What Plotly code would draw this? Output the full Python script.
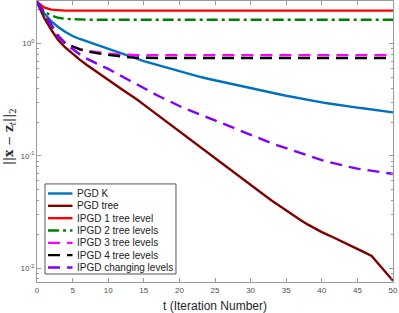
import plotly.graph_objects as go

t = list(range(51))

pgd_k = [2.35, 1.862, 1.585, 1.40, 1.27, 1.17, 1.10, 1.045, 0.99, 0.945,
         0.90, 0.855, 0.815, 0.775, 0.735, 0.70, 0.67, 0.642, 0.615, 0.59,
         0.567, 0.545, 0.524, 0.504, 0.487, 0.471, 0.456, 0.442, 0.428, 0.415,
         0.402, 0.389, 0.377, 0.365, 0.354, 0.343, 0.333, 0.323, 0.315, 0.307,
         0.300, 0.293, 0.286, 0.281, 0.275, 0.269, 0.264, 0.258, 0.253, 0.248,
         0.244]

pgd_tree = [2.35, 1.70, 1.33, 1.07, 0.92, 0.81, 0.72, 0.645, 0.58, 0.525,
            0.475, 0.43, 0.389, 0.355, 0.320, 0.286, 0.256, 0.230, 0.206, 0.184,
            0.165, 0.148, 0.132, 0.118, 0.106, 0.0948, 0.0851, 0.0764, 0.0686, 0.0615,
            0.0551, 0.0494, 0.0443, 0.0398, 0.0359, 0.0325, 0.0294, 0.0268, 0.0245, 0.0226,
            0.0209, 0.0196, 0.0183, 0.0171, 0.0160, 0.0149, 0.0138, 0.0128, 0.0108, 0.0091,
            0.0077]

ipgd_1 = [2.35, 2.10, 2.01, 1.98] + [1.97] * 47
ipgd_2 = [2.35, 1.93, 1.78, 1.70, 1.66, 1.645] + [1.635] * 45
ipgd_3 = [2.35, 1.86, 1.45, 1.16, 1.0, 0.94, 0.895, 0.865, 0.845, 0.83, 0.815, 0.805, 0.797] + [0.79] * 38
ipgd_4 = [2.35, 1.86, 1.45, 1.16, 1.0, 0.94, 0.89, 0.855, 0.83, 0.81, 0.795, 0.78, 0.765, 0.755, 0.75] + [0.746] * 36

ipgd_chg = [2.35, 1.862, 1.45, 1.16, 1.0, 0.895, 0.805, 0.735, 0.68, 0.635,
            0.595, 0.553, 0.51, 0.47, 0.435, 0.401, 0.372, 0.343, 0.320, 0.297,
            0.278, 0.261, 0.245, 0.231, 0.219, 0.207, 0.195, 0.184, 0.173, 0.163,
            0.154, 0.145, 0.136, 0.129, 0.123, 0.117, 0.111, 0.105, 0.1005, 0.0959,
            0.0918, 0.0881, 0.0847, 0.0818, 0.0793, 0.0769, 0.0750, 0.0735, 0.0719, 0.0705,
            0.0692]

series_names = ["PGD K", "PGD tree", "IPGD 1 tree level", "IPGD 2 tree levels",
                "IPGD 3 tree levels", "IPGD 4 tree levels", "IPGD changing levels"]
series_values = [pgd_k, pgd_tree, ipgd_1, ipgd_2, ipgd_3, ipgd_4, ipgd_chg]
series_colors = ["#0072BD", "#800000", "#FF0000", "#008000", "#FF00FF", "#000000", "#7F00FF"]
series_dash = ["solid", "solid", "solid", "11px,4px,3px,4px", "12px,7px", "12px,7px", "12px,7px"]

x_ticks = [0, 5, 10, 15, 20, 25, 30, 35, 40, 45, 50]
y_ticks = [0.01, 0.1, 1]
y_ticktext = ["10<sup>-2</sup>", "10<sup>-1</sup>", "10<sup>0</sup>"]
y_minor = [0.008, 0.009] + [m * 0.01 for m in range(2, 10)] + [m * 0.1 for m in range(2, 10)] + [2]

LW = 2.4
fig = go.Figure()
for name, vals, color, dash in zip(series_names, series_values, series_colors, series_dash):
    fig.add_trace(go.Scatter(x=t, y=vals, name=name, mode="lines", showlegend=False,
                             line=dict(color=color, width=LW, dash=dash)))

axis_common = dict(showline=True, linecolor="#9a9a9a", linewidth=1, mirror="allticks",
                   ticks="inside", ticklen=4, tickcolor="#9a9a9a", showgrid=False,
                   zeroline=False, automargin=False,
                   tickfont=dict(family="Liberation Sans, Arial", size=8, color="#505050"))

# manual legend (compact, MATLAB-like)
shapes = []
annotations = []
box_x0, box_x1, box_y0, box_y1 = 0.0225, 0.3904, 0.0285, 0.349
shapes.append(dict(type="rect", xref="paper", yref="paper", x0=box_x0, x1=box_x1,
                   y0=box_y0, y1=box_y1, line=dict(color="#555555", width=1),
                   fillcolor="white", layer="above"))
row0, row_step = 0.3150, 0.0439
for i, (name, color, dash) in enumerate(zip(series_names, series_colors, series_dash)):
    yy = row0 - i * row_step
    shapes.append(dict(type="line", xref="paper", yref="paper", x0=0.031, x1=0.0997,
                       y0=yy, y1=yy, line=dict(color=color, width=LW, dash=dash), layer="above"))
    annotations.append(dict(text=name, x=0.1055, y=yy, xref="paper", yref="paper",
                            xanchor="left", yanchor="middle", showarrow=False,
                            font=dict(family="Liberation Sans, Arial", size=10, color="#222222")))

annotations += [
    dict(text="t (Iteration Number)", x=0.5, y=-0.0843, xref="paper", yref="paper",
         xanchor="center", yanchor="middle", showarrow=False,
         font=dict(family="Liberation Sans, Arial", size=12, color="#262626")),
    dict(text="||<b>x</b> − <b>z</b><sub><i>t</i></sub>||<sub>2</sub>", x=-0.0758, y=0.516,
         xref="paper", yref="paper", xanchor="center", yanchor="middle",
         textangle=-90, showarrow=False,
         font=dict(family="DejaVu Serif", size=12, color="#262626")),
]

fig.update_layout(
    width=399, height=313,
    margin=dict(l=37, r=6, t=1, b=31, autoexpand=False),
    paper_bgcolor="white", plot_bgcolor="white",
    showlegend=False,
    xaxis=dict(range=[0, 50], tickvals=x_ticks, **axis_common),
    yaxis=dict(type="log", range=[-2.124, 0.380], tickvals=y_ticks, ticktext=y_ticktext,
               minor=dict(tickvals=y_minor, ticks="inside", ticklen=2, tickcolor="#9a9a9a"),
               **axis_common),
    shapes=shapes,
    annotations=annotations,
)

fig.write_html("out.html", config={"displayModeBar": False},
               post_script="document.body.style.margin='0px';document.body.style.overflow='hidden';")
